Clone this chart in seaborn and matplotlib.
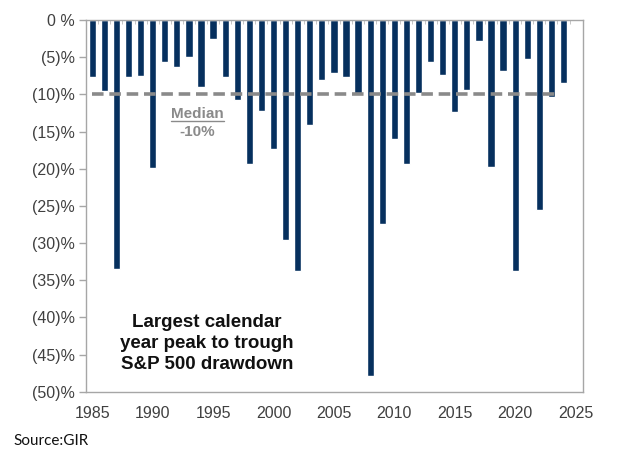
import numpy as np
import pandas as pd
import matplotlib
matplotlib.use("Agg")
import matplotlib.pyplot as plt
import seaborn as sns
from matplotlib.ticker import FuncFormatter, MultipleLocator

years = list(range(1985, 2025))
drawdown = [-7.7, -9.5, -33.5, -7.7, -7.6, -19.9, -5.6, -6.3, -5.0, -9.0,
            -2.5, -7.7, -10.8, -19.4, -12.2, -17.3, -29.6, -33.8, -14.1, -8.1,
            -7.1, -7.7, -9.9, -47.9, -27.5, -16.0, -19.4, -9.8, -5.7, -7.4,
            -12.4, -9.4, -2.8, -19.8, -6.8, -33.8, -5.2, -25.5, -10.3, -8.5]
median_val = -10
median_span = [1985, 2023.5]

df = pd.DataFrame({"year": years, "drawdown": drawdown})

sns.set_style("white")
plt.rcParams["font.family"] = ["Liberation Sans", "DejaVu Sans"]

fig = plt.figure(figsize=(6.2, 4.53), dpi=100)
ax = fig.add_axes([0.139, 0.135, 0.801, 0.821])

sns.barplot(data=df, x="year", y="drawdown", native_scale=True,
            color="#06305e", saturation=1, width=0.6, ax=ax)

ax.plot(median_span, [median_val, median_val], color="#8a8a8a",
        linestyle=(0, (3.2, 1.6)), linewidth=2.6, zorder=3)

ax.set_xlim(1984.5, 2025.6)
ax.set_ylim(-50, 0)
ax.xaxis.set_major_locator(MultipleLocator(5))
ax.yaxis.set_major_locator(MultipleLocator(5))

def pct(v, pos):
    v = int(round(v))
    if v == 0:
        return "0 %"
    return f"({abs(v)})%"

ax.yaxis.set_major_formatter(FuncFormatter(pct))
ax.set_xlabel("")
ax.set_ylabel("")

for s in ax.spines.values():
    s.set_color("#a6a6a6")
    s.set_linewidth(1.0)

ax.tick_params(axis="y", which="major", left=True, length=5, width=1,
               color="#a6a6a6", labelsize=11.5, labelcolor="#404040", pad=3)
ax.tick_params(axis="x", which="major", bottom=False, labelsize=11.5,
               labelcolor="#404040", pad=7)
ax.set_xticks(np.arange(1984.5, 2025.5, 1), minor=True)
ax.tick_params(axis="x", which="minor", top=True, bottom=False, direction="in",
               length=3, color="#bcbcbc")

ax.text(1993.7, -12.6, "Median", ha="center", va="center", fontsize=11,
        fontweight="bold", color="#8a8a8a")
ax.plot([1991.5, 1995.9], [-13.6, -13.6], color="#8a8a8a", linewidth=1)
ax.text(1993.7, -15.0, "-10%", ha="center", va="center", fontsize=11,
        fontweight="bold", color="#8a8a8a")

ax.text(1994.5, -43.5, "Largest calendar\nyear peak to trough\nS&P 500 drawdown",
        ha="center", va="center", fontsize=13.5, fontweight="bold",
        color="#111111", linespacing=1.3)

fig.text(0.022, 0.018, "Source:GIR", fontsize=11, color="#111111",
         family=["Lato", "DejaVu Sans"])

fig.savefig("out.png", dpi=100, facecolor="white")
